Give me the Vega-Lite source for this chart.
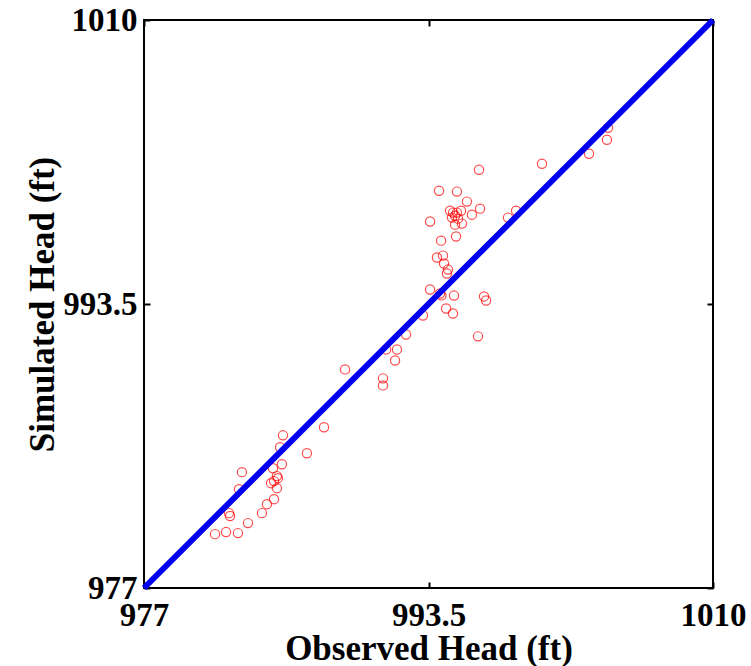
{
  "$schema": "https://vega.github.io/schema/vega-lite/v6.json",
  "width": 569,
  "height": 568,
  "autosize": {"type": "none"},
  "padding": {"left": 144, "top": 20, "right": 38, "bottom": 78},
  "background": "white",
  "config": {
    "view": {"stroke": "black", "strokeWidth": 2},
    "font": "Liberation Serif",
    "axis": {
      "labelFont": "Liberation Serif",
      "titleFont": "Liberation Serif",
      "labelFontWeight": "bold",
      "titleFontWeight": "bold",
      "labelColor": "black",
      "titleColor": "black",
      "labelFontSize": 33,
      "titleFontSize": 35,
      "grid": false,
      "domain": false,
      "tickColor": "black",
      "tickWidth": 2,
      "tickSize": -6,
      "labelExpr": "'' + datum.value"
    }
  },
  "layer": [
    {
      "data": {
        "values": [
          {"observed": 981.12, "simulated": 980.13},
          {"observed": 981.76, "simulated": 980.25},
          {"observed": 982.45, "simulated": 980.19},
          {"observed": 983.03, "simulated": 980.77},
          {"observed": 981.93, "simulated": 981.35},
          {"observed": 981.99, "simulated": 981.18},
          {"observed": 983.84, "simulated": 981.35},
          {"observed": 984.13, "simulated": 981.87},
          {"observed": 984.54, "simulated": 982.16},
          {"observed": 982.51, "simulated": 982.74},
          {"observed": 982.68, "simulated": 983.73},
          {"observed": 984.71, "simulated": 982.80},
          {"observed": 984.37, "simulated": 983.09},
          {"observed": 984.54, "simulated": 983.21},
          {"observed": 984.77, "simulated": 983.38},
          {"observed": 984.71, "simulated": 983.50},
          {"observed": 984.48, "simulated": 983.96},
          {"observed": 985.00, "simulated": 984.19},
          {"observed": 984.89, "simulated": 985.18},
          {"observed": 985.06, "simulated": 985.87},
          {"observed": 986.45, "simulated": 984.83},
          {"observed": 987.44, "simulated": 986.34},
          {"observed": 988.66, "simulated": 989.70},
          {"observed": 990.86, "simulated": 989.18},
          {"observed": 990.86, "simulated": 988.77},
          {"observed": 991.56, "simulated": 990.22},
          {"observed": 991.67, "simulated": 990.86},
          {"observed": 991.04, "simulated": 990.86},
          {"observed": 992.20, "simulated": 991.73},
          {"observed": 993.18, "simulated": 992.83},
          {"observed": 994.52, "simulated": 993.24},
          {"observed": 994.92, "simulated": 992.95},
          {"observed": 996.37, "simulated": 991.62},
          {"observed": 996.72, "simulated": 993.94},
          {"observed": 996.84, "simulated": 993.70},
          {"observed": 993.59, "simulated": 994.34},
          {"observed": 994.17, "simulated": 994.11},
          {"observed": 994.25, "simulated": 994.00},
          {"observed": 994.98, "simulated": 993.99},
          {"observed": 994.57, "simulated": 995.27},
          {"observed": 994.63, "simulated": 995.50},
          {"observed": 994.40, "simulated": 995.85},
          {"observed": 993.99, "simulated": 996.20},
          {"observed": 994.34, "simulated": 996.31},
          {"observed": 994.23, "simulated": 997.18},
          {"observed": 995.10, "simulated": 997.42},
          {"observed": 993.59, "simulated": 998.29},
          {"observed": 994.75, "simulated": 998.92},
          {"observed": 994.92, "simulated": 998.81},
          {"observed": 995.15, "simulated": 998.81},
          {"observed": 994.86, "simulated": 998.52},
          {"observed": 995.04, "simulated": 998.63},
          {"observed": 995.21, "simulated": 998.46},
          {"observed": 995.44, "simulated": 998.17},
          {"observed": 995.04, "simulated": 998.11},
          {"observed": 995.39, "simulated": 998.92},
          {"observed": 994.11, "simulated": 1000.08},
          {"observed": 995.15, "simulated": 1000.03},
          {"observed": 995.73, "simulated": 999.45},
          {"observed": 996.49, "simulated": 999.04},
          {"observed": 996.02, "simulated": 998.69},
          {"observed": 996.43, "simulated": 1001.30},
          {"observed": 1000.08, "simulated": 1001.65},
          {"observed": 1002.81, "simulated": 1002.23},
          {"observed": 998.11, "simulated": 998.52},
          {"observed": 998.58, "simulated": 998.92},
          {"observed": 1003.91, "simulated": 1003.74},
          {"observed": 1003.85, "simulated": 1003.04}
        ]
      },
      "mark": {"type": "point", "shape": "circle", "filled": false, "color": "#ff0000", "size": 85, "strokeWidth": 1.2},
      "encoding": {
        "x": {
          "field": "observed", "type": "quantitative",
          "scale": {"domain": [977, 1010], "nice": false, "zero": false},
          "axis": {"values": [977, 993.5, 1010], "title": "Observed Head (ft)", "labelPadding": 17, "titlePadding": -1, "labelFlush": false}
        },
        "y": {
          "field": "simulated", "type": "quantitative",
          "scale": {"domain": [977, 1010], "nice": false, "zero": false},
          "axis": {"values": [977, 993.5, 1010], "title": "Simulated Head (ft)", "labelPadding": 13, "titlePadding": 2, "labelFlush": false}
        }
      }
    },
    {
      "data": {"values": [{"observed": 977, "simulated": 977}, {"observed": 1010, "simulated": 1010}]},
      "mark": {"type": "line", "color": "#0000f0", "strokeWidth": 6},
      "encoding": {
        "x": {
          "field": "observed", "type": "quantitative",
          "scale": {"domain": [977, 1010], "nice": false, "zero": false},
          "axis": {"orient": "top", "values": [977, 993.5, 1010], "labels": false, "title": null}
        },
        "y": {
          "field": "simulated", "type": "quantitative",
          "scale": {"domain": [977, 1010], "nice": false, "zero": false},
          "axis": {"orient": "right", "values": [977, 993.5, 1010], "labels": false, "title": null}
        }
      }
    }
  ],
  "resolve": {"axis": {"x": "independent", "y": "independent"}}
}
